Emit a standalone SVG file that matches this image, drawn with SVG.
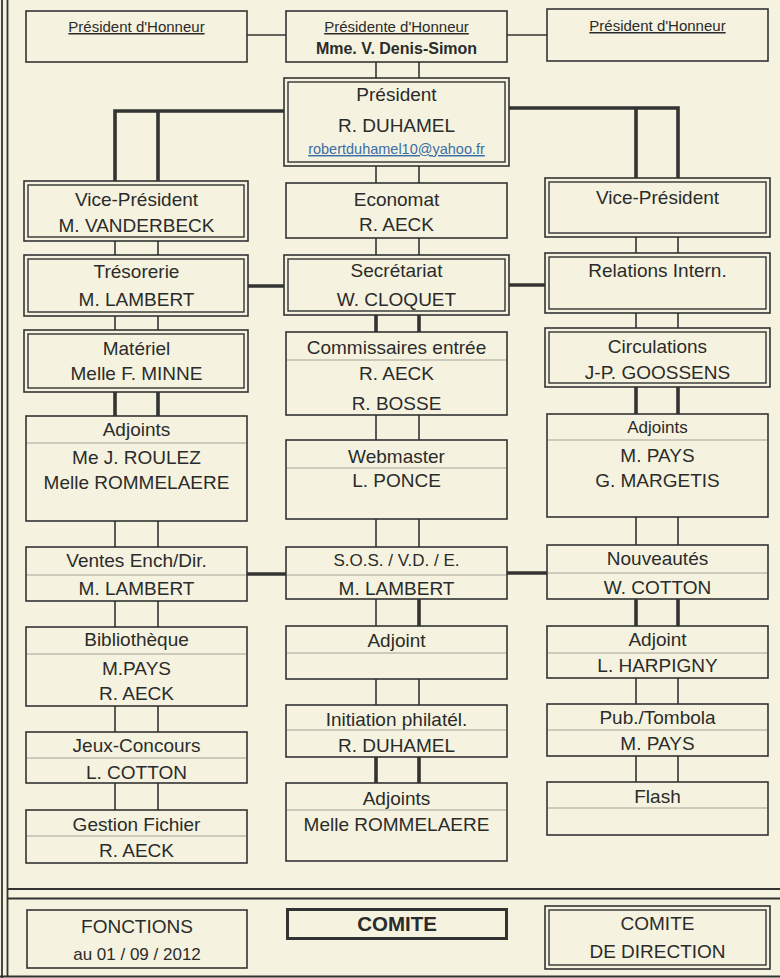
<svg xmlns="http://www.w3.org/2000/svg" width="780" height="978" viewBox="0 0 780 978">
<style>
.bg{fill:#f5f3df}
.b{fill:none;stroke:#333;stroke-width:1.6}
.bi{fill:none;stroke:#333;stroke-width:1.4}
.s{stroke:#a3a296;stroke-width:1}
.c{fill:none;stroke:#333;stroke-width:1.6}
.k{fill:none;stroke:#333;stroke-width:3.6}
.f{fill:none;stroke:#333;stroke-width:1.8}
text{font-family:"Liberation Sans",Arial,sans-serif;font-size:19px;fill:#2b2b2b;text-anchor:middle}
.sm{font-size:15px}
.u{text-decoration:underline}
.bd{font-weight:bold}
.em{font-size:14.5px;fill:#3c6da6;text-decoration:underline}
.m17{font-size:17px}
</style>
<rect class="bg" x="0" y="0" width="780" height="978"/>
<g id="frame">
<line class="f" x1="2" y1="0" x2="2" y2="978" stroke-width="2"/>
<line class="f" x1="7.5" y1="0" x2="7.5" y2="977"/>
<line class="f" x1="7.5" y1="889" x2="780" y2="889"/>
<line class="f" x1="7.5" y1="898.5" x2="780" y2="898.5"/>
<line class="f" x1="0" y1="976.5" x2="780" y2="976.5" stroke-width="2"/>
</g>
<g id="connectors">
<line class="c" x1="247" y1="35" x2="286" y2="35"/>
<line class="c" x1="507" y1="35" x2="547" y2="35"/>
<line class="c" x1="376" y1="62" x2="376" y2="78"/>
<line class="c" x1="419" y1="62" x2="419" y2="78"/>
<path class="k" d="M284 111 H115 V181 M158 111 V181"/>
<path class="k" d="M509 108 H678 V178 M636 108 V178"/>
<line class="c" x1="376" y1="166" x2="376" y2="183"/>
<line class="c" x1="419" y1="166" x2="419" y2="183"/>
<line class="c" x1="115" y1="241" x2="115" y2="255"/>
<line class="c" x1="158" y1="241" x2="158" y2="255"/>
<line class="c" x1="376" y1="238" x2="376" y2="255"/>
<line class="c" x1="419" y1="238" x2="419" y2="255"/>
<line class="c" x1="636" y1="237" x2="636" y2="253"/>
<line class="c" x1="678" y1="237" x2="678" y2="253"/>
<line class="k" x1="248" y1="286" x2="284" y2="286"/>
<line class="k" x1="509" y1="285" x2="545" y2="285"/>
<line class="c" x1="115" y1="316" x2="115" y2="330"/>
<line class="c" x1="158" y1="316" x2="158" y2="330"/>
<line class="k" x1="376" y1="315" x2="376" y2="332"/>
<line class="k" x1="419" y1="315" x2="419" y2="332"/>
<line class="c" x1="636" y1="313" x2="636" y2="328"/>
<line class="c" x1="678" y1="313" x2="678" y2="328"/>
<line class="k" x1="115" y1="392" x2="115" y2="416"/>
<line class="k" x1="158" y1="392" x2="158" y2="416"/>
<line class="c" x1="376" y1="415" x2="376" y2="440"/>
<line class="c" x1="419" y1="415" x2="419" y2="440"/>
<line class="k" x1="636" y1="387" x2="636" y2="414"/>
<line class="k" x1="678" y1="387" x2="678" y2="414"/>
<line class="c" x1="115" y1="521" x2="115" y2="547"/>
<line class="c" x1="158" y1="521" x2="158" y2="547"/>
<line class="c" x1="376" y1="519" x2="376" y2="547"/>
<line class="c" x1="419" y1="519" x2="419" y2="547"/>
<line class="c" x1="636" y1="517" x2="636" y2="545"/>
<line class="c" x1="678" y1="517" x2="678" y2="545"/>
<line class="k" x1="247" y1="574" x2="286" y2="574"/>
<line class="k" x1="507" y1="573" x2="547" y2="573"/>
<line class="c" x1="115" y1="601" x2="115" y2="627"/>
<line class="c" x1="158" y1="601" x2="158" y2="627"/>
<line class="c" x1="376" y1="599" x2="376" y2="626"/>
<line class="k" x1="419" y1="599" x2="419" y2="626"/>
<line class="k" x1="636" y1="599" x2="636" y2="626"/>
<line class="k" x1="678" y1="599" x2="678" y2="626"/>
<line class="c" x1="115" y1="706" x2="115" y2="732"/>
<line class="c" x1="158" y1="706" x2="158" y2="732"/>
<line class="c" x1="376" y1="679" x2="376" y2="705"/>
<line class="c" x1="419" y1="679" x2="419" y2="705"/>
<line class="c" x1="636" y1="678" x2="636" y2="704"/>
<line class="c" x1="678" y1="678" x2="678" y2="704"/>
<line class="c" x1="115" y1="783" x2="115" y2="810"/>
<line class="c" x1="158" y1="783" x2="158" y2="810"/>
<line class="k" x1="376" y1="757" x2="376" y2="783"/>
<line class="k" x1="419" y1="757" x2="419" y2="783"/>
<line class="c" x1="636" y1="756" x2="636" y2="782"/>
<line class="c" x1="678" y1="756" x2="678" y2="782"/>
</g>
<g id="hon-left">
<rect class="b" x="26" y="11" width="221" height="51"/>
<text class="sm u" x="136.5" y="32">Président d'Honneur</text>
</g>
<g id="hon-mid">
<rect class="b" x="286" y="11" width="221" height="51"/>
<text class="sm u" x="396.5" y="32">Présidente d'Honneur</text>
<text class="bd" x="396.5" y="54" style="font-size:16px">Mme. V. Denis-Simon</text>
</g>
<g id="hon-right">
<rect class="b" x="547" y="9" width="221" height="52"/>
<text class="sm u" x="657.5" y="31">Président d'Honneur</text>
</g>
<g id="president">
<rect class="b" x="284" y="78" width="225" height="88"/>
<rect class="bi" x="288" y="82" width="217" height="80"/>
<text x="396.5" y="101">Président</text>
<text x="396.5" y="132">R. DUHAMEL</text>
<text class="em" x="396.5" y="154">robertduhamel10@yahoo.fr</text>
</g>
<g id="vp-left">
<rect class="b" x="24" y="181" width="224" height="60"/>
<rect class="bi" x="28" y="185" width="216" height="52"/>
<text x="136.5" y="206">Vice-Président</text>
<text x="136.5" y="232">M. VANDERBECK</text>
</g>
<g id="economat">
<rect class="b" x="286" y="183" width="221" height="55"/>
<text x="396.5" y="206">Economat</text>
<text x="396.5" y="231">R. AECK</text>
</g>
<g id="vp-right">
<rect class="b" x="545" y="178" width="225" height="59"/>
<rect class="bi" x="549" y="182" width="217" height="51"/>
<text x="657.5" y="204">Vice-Président</text>
</g>
<g id="tresorerie">
<rect class="b" x="24" y="255" width="224" height="61"/>
<rect class="bi" x="28" y="259" width="216" height="53"/>
<text x="136.5" y="278">Trésorerie</text>
<text x="136.5" y="306">M. LAMBERT</text>
</g>
<g id="secretariat">
<rect class="b" x="284" y="255" width="225" height="60"/>
<rect class="bi" x="288" y="259" width="217" height="52"/>
<text x="396.5" y="277">Secrétariat</text>
<text x="396.5" y="306">W. CLOQUET</text>
</g>
<g id="relations">
<rect class="b" x="545" y="253" width="225" height="60"/>
<rect class="bi" x="549" y="257" width="217" height="52"/>
<text x="657.5" y="277">Relations Intern.</text>
</g>
<g id="materiel">
<rect class="b" x="24" y="330" width="224" height="62"/>
<rect class="bi" x="28" y="334" width="216" height="54"/>
<text x="136.5" y="355">Matériel</text>
<text x="136.5" y="380">Melle F. MINNE</text>
</g>
<g id="commissaires">
<rect class="b" x="286" y="332" width="221" height="83"/>
<line class="s" x1="287" y1="360" x2="506" y2="360"/>
<text x="396.5" y="354">Commissaires entrée</text>
<text x="396.5" y="380">R. AECK</text>
<text x="396.5" y="410">R. BOSSE</text>
</g>
<g id="circulations">
<rect class="b" x="545" y="328" width="225" height="59"/>
<rect class="bi" x="549" y="332" width="217" height="51"/>
<text x="657.5" y="353">Circulations</text>
<text x="657.5" y="379">J-P. GOOSSENS</text>
</g>
<g id="adjoints-left">
<rect class="b" x="26" y="416" width="221" height="105"/>
<line class="s" x1="27" y1="443" x2="246" y2="443"/>
<text x="136.5" y="436">Adjoints</text>
<text x="136.5" y="464">Me J. ROULEZ</text>
<text x="136.5" y="489">Melle ROMMELAERE</text>
</g>
<g id="webmaster">
<rect class="b" x="286" y="440" width="221" height="79"/>
<line class="s" x1="287" y1="468" x2="506" y2="468"/>
<text x="396.5" y="463">Webmaster</text>
<text x="396.5" y="487">L. PONCE</text>
</g>
<g id="adjoints-right">
<rect class="b" x="547" y="414" width="221" height="103"/>
<line class="s" x1="548" y1="440" x2="767" y2="440"/>
<text class="m17" x="657.5" y="433">Adjoints</text>
<text x="657.5" y="462">M. PAYS</text>
<text x="657.5" y="487">G. MARGETIS</text>
</g>
<g id="ventes">
<rect class="b" x="26" y="547" width="221" height="54"/>
<line class="s" x1="27" y1="575" x2="246" y2="575"/>
<text x="136.5" y="567">Ventes Ench/Dir.</text>
<text x="136.5" y="595">M. LAMBERT</text>
</g>
<g id="sos">
<rect class="b" x="286" y="547" width="221" height="52"/>
<line class="s" x1="287" y1="575" x2="506" y2="575"/>
<text class="m17" x="396.5" y="566">S.O.S. / V.D. / E.</text>
<text x="396.5" y="595">M. LAMBERT</text>
</g>
<g id="nouveautes">
<rect class="b" x="547" y="545" width="221" height="54"/>
<line class="s" x1="548" y1="573" x2="767" y2="573"/>
<text x="657.5" y="565">Nouveautés</text>
<text x="657.5" y="594">W. COTTON</text>
</g>
<g id="bibliotheque">
<rect class="b" x="26" y="627" width="221" height="79"/>
<line class="s" x1="27" y1="654" x2="246" y2="654"/>
<text x="136.5" y="646">Bibliothèque</text>
<text x="136.5" y="675">M.PAYS</text>
<text x="136.5" y="700">R. AECK</text>
</g>
<g id="adjoint-mid">
<rect class="b" x="286" y="626" width="221" height="53"/>
<line class="s" x1="287" y1="653" x2="506" y2="653"/>
<text x="396.5" y="647">Adjoint</text>
</g>
<g id="adjoint-right">
<rect class="b" x="547" y="626" width="221" height="52"/>
<line class="s" x1="548" y1="653" x2="767" y2="653"/>
<text x="657.5" y="646">Adjoint</text>
<text x="657.5" y="672">L. HARPIGNY</text>
</g>
<g id="jeux">
<rect class="b" x="26" y="732" width="221" height="51"/>
<line class="s" x1="27" y1="758" x2="246" y2="758"/>
<text x="136.5" y="752">Jeux-Concours</text>
<text x="136.5" y="779">L. COTTON</text>
</g>
<g id="initiation">
<rect class="b" x="286" y="705" width="221" height="52"/>
<line class="s" x1="287" y1="730" x2="506" y2="730"/>
<text x="396.5" y="726">Initiation philatél.</text>
<text x="396.5" y="752">R. DUHAMEL</text>
</g>
<g id="pub">
<rect class="b" x="547" y="704" width="221" height="52"/>
<line class="s" x1="548" y1="730" x2="767" y2="730"/>
<text x="657.5" y="724">Pub./Tombola</text>
<text x="657.5" y="750">M. PAYS</text>
</g>
<g id="gestion">
<rect class="b" x="26" y="810" width="221" height="53"/>
<line class="s" x1="27" y1="836" x2="246" y2="836"/>
<text x="136.5" y="831">Gestion Fichier</text>
<text x="136.5" y="857">R. AECK</text>
</g>
<g id="adjoints-mid">
<rect class="b" x="286" y="783" width="221" height="78"/>
<line class="s" x1="287" y1="810" x2="506" y2="810"/>
<text x="396.5" y="805">Adjoints</text>
<text x="396.5" y="831">Melle ROMMELAERE</text>
</g>
<g id="flash">
<rect class="b" x="547" y="782" width="221" height="53"/>
<line class="s" x1="548" y1="808" x2="767" y2="808"/>
<text x="657.5" y="803">Flash</text>
</g>
<g id="fonctions">
<rect class="b" x="27" y="910" width="220" height="58"/>
<text x="137" y="933">FONCTIONS</text>
<text class="m17" x="137" y="960">au 01 / 09 / 2012</text>
</g>
<g id="comite">
<rect x="287.5" y="909.5" width="219" height="29" fill="none" stroke="#333" stroke-width="3"/>
<text class="bd" x="397" y="931" style="font-size:20.5px">COMITE</text>
</g>
<g id="comite-direction">
<rect class="b" x="545" y="906" width="225" height="63"/>
<rect class="bi" x="549" y="910" width="217" height="55"/>
<text x="657.5" y="930">COMITE</text>
<text x="657.5" y="958">DE DIRECTION</text>
</g>
</svg>
